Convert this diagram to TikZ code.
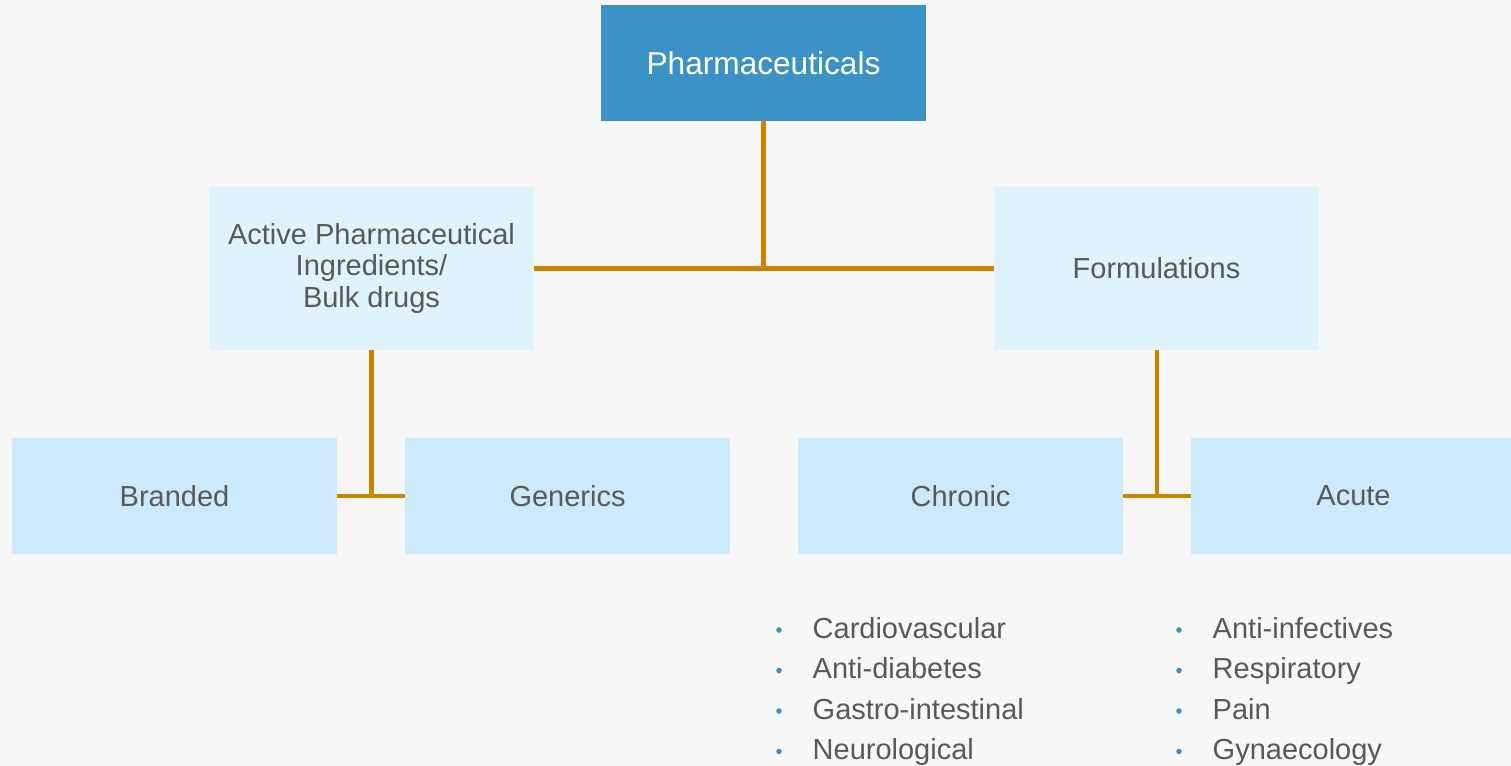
\documentclass[tikz,border=0pt]{standalone}
\usepackage{fontspec}
\setmainfont{Liberation Sans}
\usetikzlibrary{calc}

\definecolor{bgcol}{HTML}{F7F7F7}
\definecolor{topblue}{HTML}{3A92C7}
\definecolor{midblue}{HTML}{E0F2FC}
\definecolor{lowblue}{HTML}{CCEAFC}
\definecolor{linkcol}{HTML}{CC8400}
\definecolor{textcol}{HTML}{595959}

\tikzset{
    catbox/.style={inner sep=0pt, outer sep=0pt, minimum width=3.25cm, text=textcol, align=center, font=\fontsize{8.25}{8.9}\selectfont},
    topbox/.style={catbox, fill=topblue, minimum height=1.16cm, text=white, font=\fontsize{9}{10}\selectfont},
    midbox/.style={catbox, fill=midblue, minimum height=1.63cm},
    lowbox/.style={catbox, fill=lowblue, minimum height=1.16cm},
    link/.style={draw=linkcol, line width=1.15pt},
    item/.style={anchor=base west, inner sep=0pt, text=textcol, font=\fontsize{8.25}{9}\selectfont},
    dot/.style={circle, fill=topblue, inner sep=0pt, minimum size=1.6pt}
}

\begin{document}
\begin{tikzpicture}
    \pgfmathsetmacro{\rowgap}{0.405}

    \path [fill=bgcol] (0, 0) rectangle (15.11, -7.66);
    \useasboundingbox (0, 0) rectangle (15.11, -7.66);

    \node [topbox] (pharma) at (7.635, -0.63) {Pharmaceuticals};
    \node [midbox] (api) at (3.715, -2.685) {Active Pharmaceutical\\Ingredients/\\Bulk drugs};
    \node [midbox] (form) at (11.565, -2.685) {Formulations};
    \node [lowbox] (branded) at (1.745, -4.96) {Branded};
    \node [lowbox] (generics) at (5.675, -4.96) {Generics};
    \node [lowbox] (chronic) at (9.605, -4.96) {Chronic};
    \node [lowbox] (acute) at (13.535, -4.96) {Acute};

    \draw [link] (pharma.south) -- (pharma.south |- api.east);
    \draw [link] (api.east) -- (form.west);
    \draw [link] (api.south) -- (api.south |- branded.east);
    \draw [link] (branded.east) -- (generics.west);
    \draw [link] (form.south) -- (form.south |- chronic.east);
    \draw [link] (chronic.east) -- (acute.west);

    \foreach \name [count=\i] in {Cardiovascular, Anti-diabetes, Gastro-intestinal, Neurological} {
        \node [item] (chr\i) at (8.12, -6.38-\rowgap*\i+\rowgap) {\name};
        \node [dot] (chrdot\i) at (7.79, -6.30-\rowgap*\i+\rowgap) {};
    }
    \foreach \name [count=\i] in {Anti-infectives, Respiratory, Pain, Gynaecology} {
        \node [item] (acu\i) at (12.12, -6.38-\rowgap*\i+\rowgap) {\name};
        \node [dot] (acudot\i) at (11.79, -6.30-\rowgap*\i+\rowgap) {};
    }

\end{tikzpicture}
\end{document}
